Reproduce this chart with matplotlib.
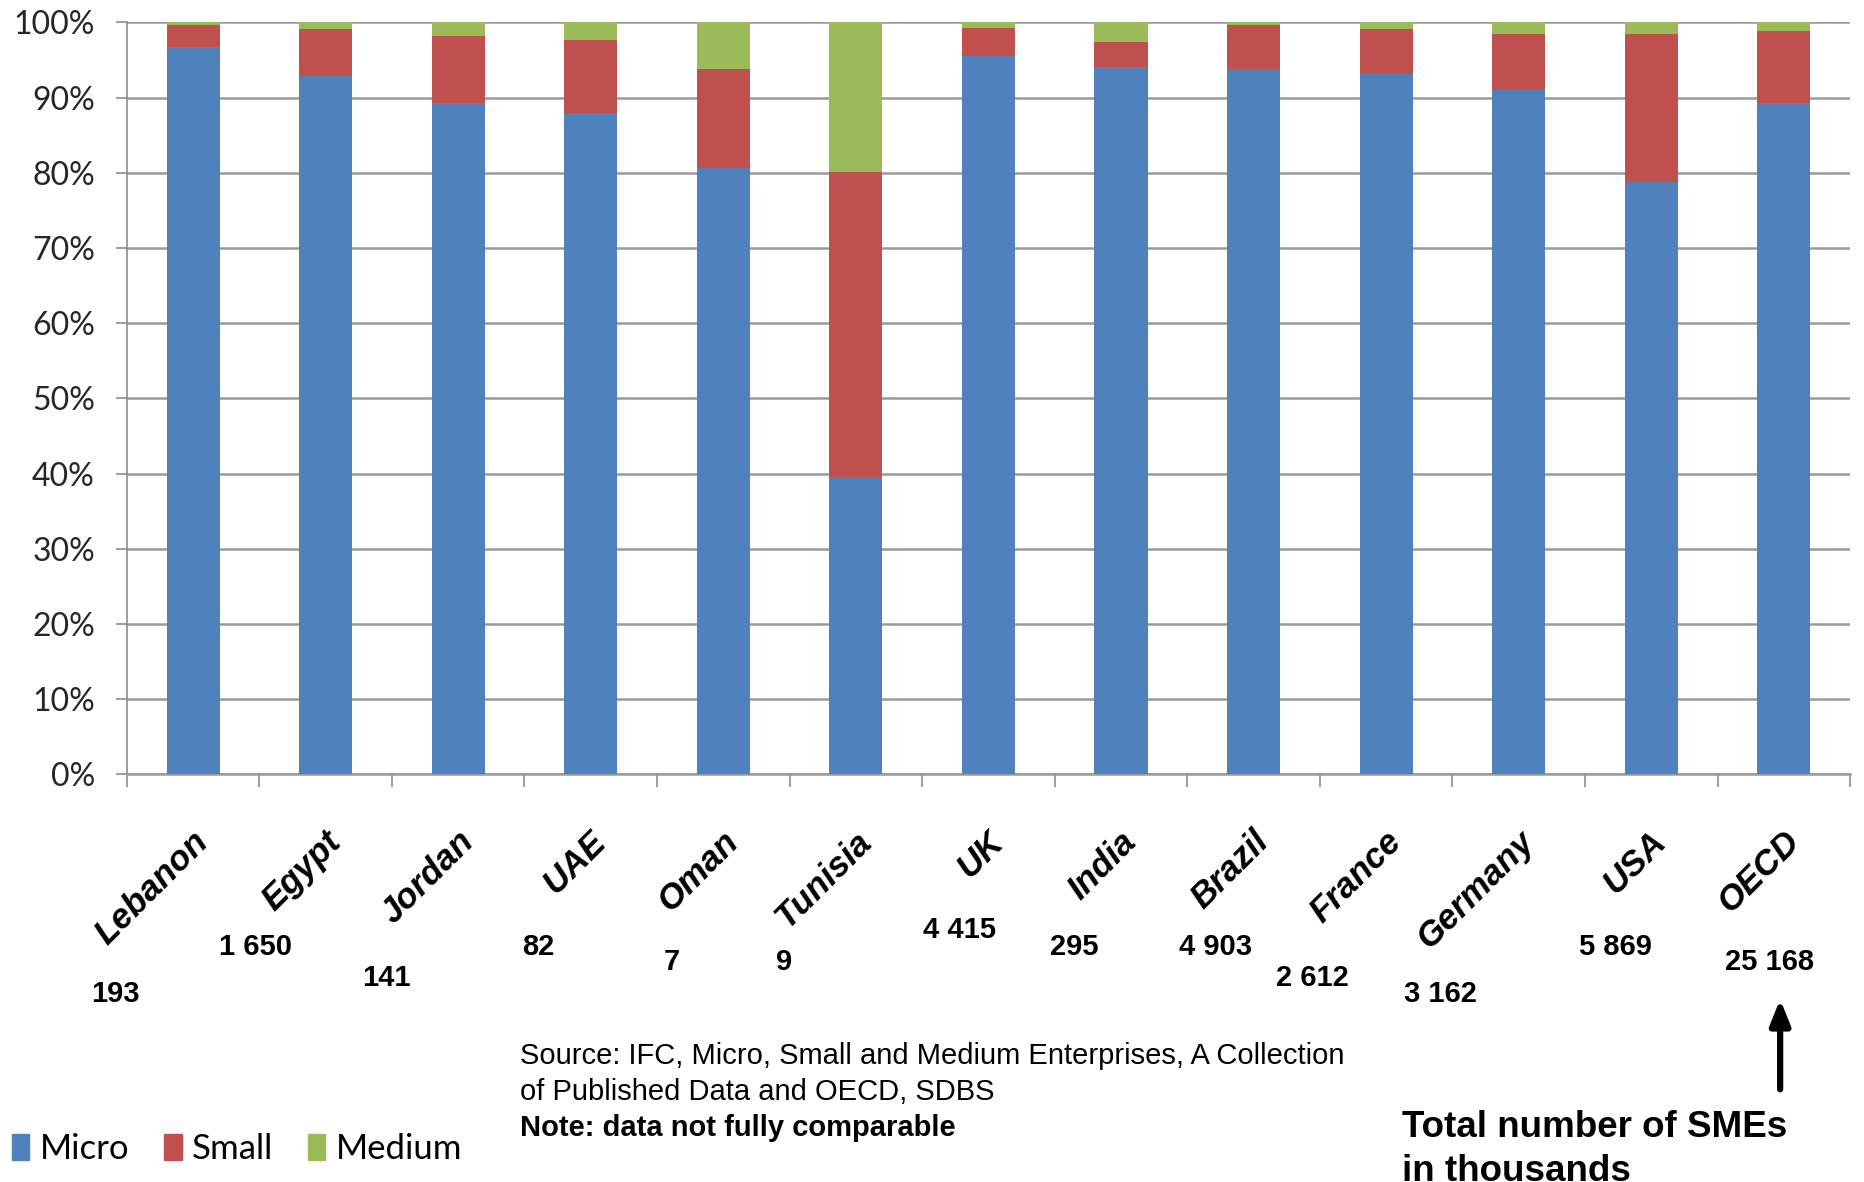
from matplotlib import pyplot as plt
from matplotlib.patches import Patch
from matplotlib.transforms import blended_transform_factory
import numpy as np

plt.rcParams.update({
    "font.family": ['Liberation Sans', 'DejaVu Sans'],
})

countries = ['Lebanon', 'Egypt', 'Jordan', 'UAE', 'Oman', 'Tunisia', 'UK',
             'India', 'Brazil', 'France', 'Germany', 'USA', 'OECD']
micro = [96.8, 92.9, 89.3, 88.0, 80.7, 39.6, 95.5, 94.1, 93.8, 93.2, 91.0, 78.8, 89.3]
small = [2.8, 6.2, 8.9, 9.7, 13.1, 40.5, 3.8, 3.3, 5.8, 5.9, 7.5, 19.7, 9.5]
medium = [0.4, 0.9, 1.8, 2.3, 6.2, 19.9, 0.7, 2.6, 0.4, 0.9, 1.5, 1.5, 1.2]
# общее число МСП, тыс.
totals = [193, 1650, 141, 82, 7, 9, 4415, 295, 4903, 2612, 3162, 5869, 25168]

# сдвиги подписей с итогами (по x в долях категории, по y в долях рисунка)
tot_dx = [-0.59, -0.53, -0.54, -0.40, -0.39, -0.54, -0.22, -0.35, -0.29, -0.56, -0.59, -0.27, -0.11]
tot_y = [0.159, 0.199, 0.173, 0.199, 0.186, 0.186, 0.213, 0.199, 0.199, 0.173, 0.159, 0.199, 0.186]

BLUE, RED, GREEN = '#4F81BD', '#C0504D', '#9BBB59'

fig = plt.figure(figsize=(18.65, 11.82), dpi=100)
ax = fig.add_axes([0.068, 0.345, 0.924, 0.636])

x = np.arange(len(countries))
m = np.array(micro)
s = np.array(small)
md = np.array(medium)
w = 0.40
ax.bar(x, m, w, color=BLUE, zorder=3)
ax.bar(x, s, w, bottom=m, color=RED, zorder=3)
ax.bar(x, md, w, bottom=m + s, color=GREEN, zorder=3)

ax.set_xlim(-0.5, len(countries) - 0.5)
ax.set_ylim(0, 100)
ax.set_yticks(np.arange(0, 101, 10))
ax.set_yticklabels([f"{v}%" for v in range(0, 101, 10)], fontfamily='Lato',
                   fontsize=23, color='#262626')
ax.tick_params(axis='y', length=8, width=1.2, color='#8c8c8c', pad=15)
ax.yaxis.grid(True, color='#9a9a9a', linewidth=1.8, zorder=0)

# деления между категориями
ax.set_xticks(np.arange(-0.5, len(countries)))
ax.set_xticklabels([])
ax.tick_params(axis='x', length=9, width=1.2, color='#8c8c8c', direction='out')

for sp in ('top', 'right'):
    ax.spines[sp].set_visible(False)
ax.spines['left'].set_color('#8c8c8c')
ax.spines['left'].set_linewidth(1.2)
ax.spines['bottom'].set_color('#9a9a9a')
ax.spines['bottom'].set_linewidth(1.8)

# названия стран
tr = blended_transform_factory(ax.transData, fig.transFigure)
for i, c in enumerate(countries):
    ax.text(i - 0.01, 0.302, c, transform=tr, rotation=45, rotation_mode='anchor',
            ha='right', va='top', fontsize=25, fontweight='bold', fontstyle='italic')

# итоги
for i, (t, dx, ty) in enumerate(zip(totals, tot_dx, tot_y)):
    lab = f"{t:,}".replace(',', ' ')
    ax.text(i + dx, ty, lab, transform=tr, ha='center', va='center',
            fontsize=21, fontweight='bold')

# источник
fig.text(0.279, 0.107, "Source: IFC, Micro, Small and Medium Enterprises, A Collection",
         fontsize=21, va='center')
fig.text(0.279, 0.076, "of Published Data and OECD, SDBS", fontsize=21, va='center')
fig.text(0.279, 0.046, "Note: data not fully comparable", fontsize=21,
         fontweight='bold', va='center')

fig.text(0.7515, 0.046, "Total number of SMEs", fontsize=26.5,
         fontweight='bold', va='center', ha='left')
fig.text(0.7515, 0.009, "in thousands", fontsize=26.5,
         fontweight='bold', va='center', ha='left')

ax.annotate('', xy=(0.9545, 0.157), xytext=(0.9545, 0.076),
            xycoords='figure fraction', textcoords='figure fraction',
            arrowprops=dict(arrowstyle='-|>,head_length=1.5,head_width=0.6',
                            color='black', lw=4.5))

handles = [Patch(color=BLUE, label='Micro'), Patch(color=RED, label='Small'),
           Patch(color=GREEN, label='Medium')]
fig.legend(handles=handles, loc='center left', bbox_to_anchor=(0.0065, 0.028),
           ncol=3, frameon=False, prop={'family': 'Lato', 'size': 25},
           handlelength=0.5, handleheight=0.75, handletextpad=0.3,
           columnspacing=1.0, borderpad=0, borderaxespad=0)

fig.savefig("out.png", dpi=100)
